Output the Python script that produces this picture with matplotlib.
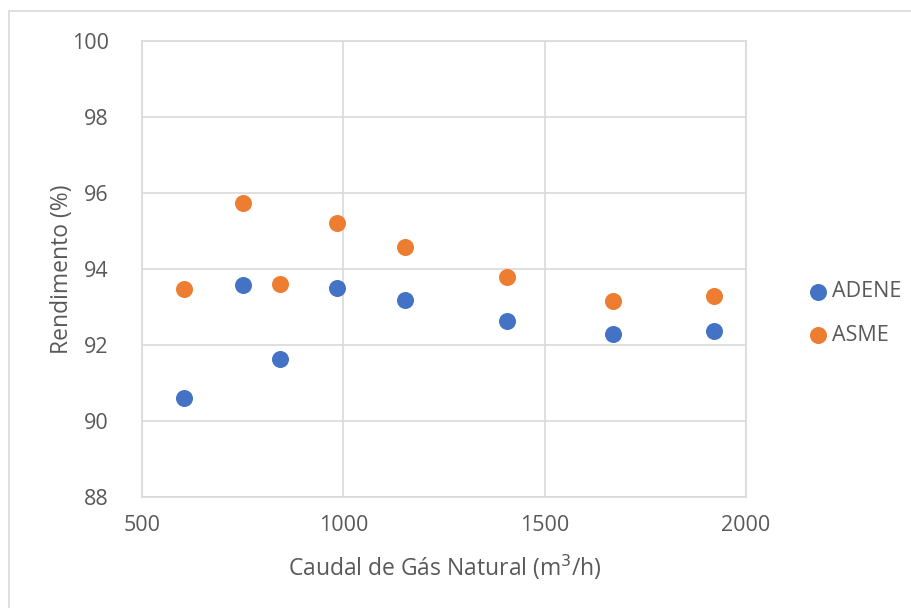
import matplotlib

matplotlib.use("Agg")
import matplotlib.pyplot as plt
from matplotlib.patches import Rectangle

# Values
caudal = [604, 751, 843, 984, 1153, 1406, 1670, 1920]
adene = [90.61, 93.58, 91.63, 93.50, 93.18, 92.63, 92.29, 92.37]
asme = [93.47, 95.74, 93.61, 95.21, 94.58, 93.79, 93.16, 93.29]
series_names = ["ADENE", "ASME"]

BLUE = "#4472C4"
ORANGE = "#ED7D31"
GRID = "#D9D9D9"
TEXT = "#595959"

plt.rcParams["font.family"] = ["Open Sans", "DejaVu Sans"]

fig = plt.figure(figsize=(9.12, 6.08), dpi=100)
fig.patch.set_facecolor("white")

# chart-area frame (runs off the right/bottom edge like the reference)
fig.add_artist(Rectangle((9 / 912, -0.05), 1.0, 1 - 11 / 608 + 0.05,
                         transform=fig.transFigure, fill=False,
                         edgecolor=GRID, linewidth=1.2))

ax = fig.add_axes([142 / 912, 1 - 497 / 608, (746 - 142) / 912, (497 - 41) / 608])
ax.scatter(caudal, adene, s=150, color=BLUE, label=series_names[0], zorder=3,
           linewidths=0)
ax.scatter(caudal, asme, s=150, color=ORANGE, label=series_names[1], zorder=3,
           linewidths=0)

ax.set_xlim(500, 2000)
ax.set_ylim(88, 100)
ax.set_xticks(range(500, 2001, 500))
ax.set_yticks(range(88, 101, 2))
ax.grid(True, color=GRID, linewidth=1.2, zorder=0)
ax.set_axisbelow(True)
for sp in ax.spines.values():
    sp.set_color(GRID)
    sp.set_linewidth(1.2)
ax.tick_params(length=0, labelsize=15.5, labelcolor=TEXT)
ax.tick_params(axis="x", pad=13)
ax.tick_params(axis="y", pad=24)

ax.set_xlabel("Caudal de Gás Natural (m$^3$/h)", fontsize=16.5, color=TEXT,
              va="center")
ax.xaxis.set_label_coords(0.5008, (497 - 567) / 456)
ax.set_ylabel("Rendimento (%)", fontsize=16.5, color=TEXT, va="center")
ax.yaxis.set_label_coords((62 - 142) / 604, 0.5)

ax.legend(loc="center left", bbox_to_anchor=(809 / 912, 1 - 313.5 / 608),
          bbox_transform=fig.transFigure, frameon=False, fontsize=15.5,
          labelcolor=TEXT, handlelength=0.8, handletextpad=0.25,
          labelspacing=1.05, borderpad=0, borderaxespad=0)

fig.savefig("out.png", dpi=100, facecolor="white")
